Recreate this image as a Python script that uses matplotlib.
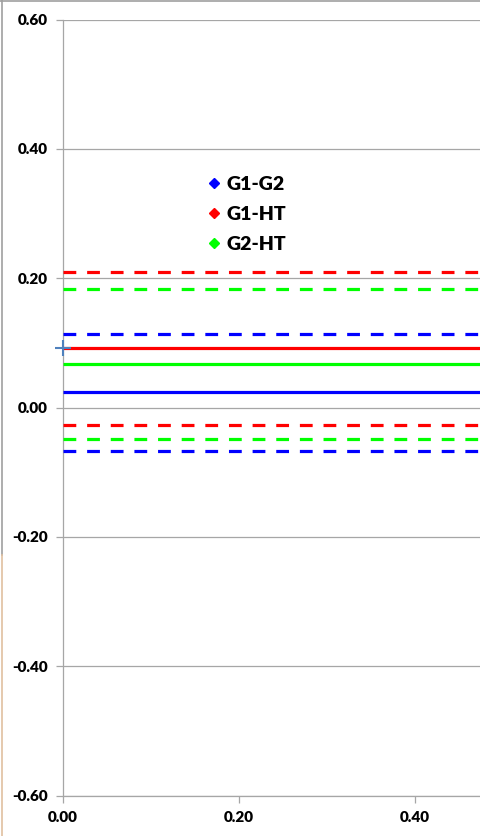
import matplotlib
matplotlib.use("Agg")
import matplotlib.pyplot as plt
from matplotlib.lines import Line2D

series = ["G1-G2", "G1-HT", "G2-HT"]
colors = ["#0000FF", "#FF0000", "#00FF00"]
mean_vals = [0.024, 0.092, 0.068]
upper_vals = [0.114, 0.209, 0.184]
lower_vals = [-0.067, -0.027, -0.049]
point_x = [0.0]
point_y = [0.092]
x_range = [0.0, 0.475]
yticks = [-0.6, -0.4, -0.2, 0.0, 0.2, 0.4, 0.6]
xticks = [0.0, 0.2, 0.4]

plt.rcParams['font.family'] = ['Lato', 'DejaVu Sans']

fig = plt.figure(figsize=(4.81, 8.36), dpi=100)
ax = fig.add_axes([63/481, (836-795.7)/836, (481-63)/481, (795.7-19.5)/836])

lw = 2.3
for i, name in enumerate(series):
    ax.plot(x_range, [mean_vals[i]]*2, color=colors[i], lw=lw, solid_capstyle='butt', zorder=3)
    ax.plot(x_range, [upper_vals[i]]*2, color=colors[i], lw=lw, dashes=(4, 3.4), zorder=3)
    ax.plot(x_range, [lower_vals[i]]*2, color=colors[i], lw=lw, dashes=(4, 3.4), zorder=3)

ax.plot(point_x, point_y, marker='+', color='#4F81BD', ms=11, mew=1.5, ls='none', zorder=5, clip_on=False)

ax.set_xlim(x_range)
ax.set_ylim(-0.6, 0.6)
ax.set_yticks(yticks)
ax.set_xticks(xticks)
ax.set_yticklabels([f"{v:.2f}" for v in yticks], fontweight='heavy', fontsize=11)
ax.set_xticklabels([f"{v:.2f}" for v in xticks], fontweight='heavy', fontsize=11)
ax.yaxis.grid(True, color='#A6A6A6', lw=0.9)
ax.set_axisbelow(True)
for s in ['top', 'right']:
    ax.spines[s].set_visible(False)
for s in ['left', 'bottom']:
    ax.spines[s].set_color('#A6A6A6')
    ax.spines[s].set_linewidth(0.9)
ax.tick_params(axis='both', color='#A6A6A6', length=5, width=0.9, pad=6)

handles = [Line2D([], [], marker='D', color=c, ls='none', ms=5) for c in colors]
leg = ax.legend(handles, series, loc='upper left', bbox_to_anchor=(196/481, (836-168)/836),
                bbox_transform=fig.transFigure, frameon=False,
                prop={'weight': 'heavy', 'size': 14}, handletextpad=0.15,
                handlelength=1.0, labelspacing=0.68, borderaxespad=0)

# remnants of adjacent frame at left/top edges
fig.add_artist(Line2D([2/481, 2/481], [1, 1-555/836], transform=fig.transFigure, color='#A0A0A0', lw=1.2))
fig.add_artist(Line2D([2/481, 2/481], [1-555/836, 0], transform=fig.transFigure, color='#E0C0A0', lw=1.2))
fig.add_artist(Line2D([0, 1], [1-1/836, 1-1/836], transform=fig.transFigure, color='#A0A0A0', lw=1.2))

fig.savefig("out.png", dpi=100)
